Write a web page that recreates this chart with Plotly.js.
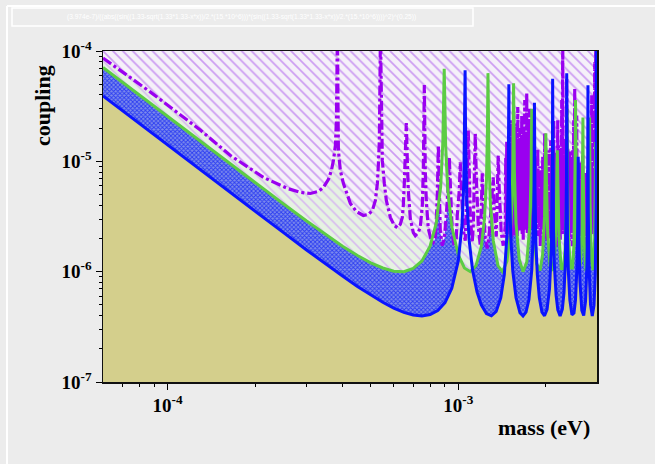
<!DOCTYPE html>
<html><head><meta charset="utf-8">
<script src="https://cdn.plot.ly/plotly-3.0.1.min.js"></script>
<style>html,body{margin:0;padding:0;background:#ececec;}#chart{width:655px;height:464px;}</style>
</head><body><div id="chart"></div>
<script>
// ---- data (mass in eV, coupling) ----
const blueMass = [6.0e-5,8.0e-5,1.0e-4,1.5e-4,2.0e-4,2.5e-4,3.0e-4,3.5e-4,4.0e-4,4.5e-4,5.0e-4,5.5e-4,6.0e-4,6.5e-4,7.0e-4,7.5e-4,8.0e-4,8.5e-4,9.0e-4,9.5e-4,
  1.0e-3,1.03e-3,1.045e-3,1.052e-3,1.0556e-3,1.06e-3,1.07e-3,1.09e-3,1.12e-3,1.16e-3,1.20e-3,1.25e-3,1.30e-3,1.35e-3,1.40e-3,1.44e-3,1.47e-3,1.485e-3,1.4928e-3,
  1.50e-3,1.515e-3,1.54e-3,1.58e-3,1.63e-3,1.67e-3,1.71e-3,1.75e-3,1.79e-3,1.81e-3,1.822e-3,1.8283e-3,1.835e-3,1.85e-3,1.87e-3,1.90e-3,1.94e-3,1.98e-3,
  2.02e-3,2.06e-3,2.09e-3,2.102e-3,2.108e-3,2.1111e-3,2.115e-3,2.125e-3,2.14e-3,2.17e-3,2.20e-3,2.24e-3,2.28e-3,2.31e-3,2.335e-3,2.35e-3,2.356e-3,2.3603e-3,
  2.365e-3,2.375e-3,2.39e-3,2.42e-3,2.46e-3,2.50e-3,2.53e-3,2.56e-3,2.575e-3,2.582e-3,2.5856e-3,2.59e-3,2.60e-3,2.62e-3,2.66e-3,2.70e-3,2.74e-3,2.77e-3,
  2.785e-3,2.7928e-3,2.80e-3,2.815e-3,2.85e-3,2.89e-3,2.93e-3,2.96e-3,2.98e-3,2.9857e-3,3.0e-3];
const blueCoupling = [3.92e-5,2.20e-5,1.41e-5,6.27e-6,3.53e-6,2.27e-6,1.58e-6,1.17e-6,9.12e-7,7.35e-7,6.13e-7,5.28e-7,4.68e-7,4.28e-7,4.05e-7,3.97e-7,4.09e-7,4.45e-7,5.25e-7,7.09e-7,
  1.25e-6,2.65e-6,6.34e-6,1.87e-5,6.7e-5,1.51e-5,4.60e-6,1.92e-6,1.03e-6,6.55e-7,5.00e-7,4.17e-7,3.98e-7,4.36e-7,5.79e-7,9.40e-7,2.10e-6,6.07e-6,5.0e-5,
  6.55e-6,2.12e-6,1.01e-6,5.80e-7,4.25e-7,3.97e-7,4.30e-7,5.59e-7,1.04e-6,2.13e-6,6.13e-6,3.4e-5,5.75e-6,1.78e-6,9.44e-7,5.81e-7,4.29e-7,3.98e-7,
  4.55e-7,7.02e-7,1.60e-6,3.66e-6,1.06e-5,5.6e-5,8.66e-6,2.41e-6,1.17e-6,6.09e-7,4.51e-7,3.97e-7,4.58e-7,6.46e-7,1.21e-6,2.90e-6,6.90e-6,6.3e-5,
  6.40e-6,2.04e-6,1.03e-6,5.52e-7,4.07e-7,4.22e-7,5.52e-7,1.10e-6,2.58e-6,7.54e-6,1.1e-5,6.22e-6,1.90e-6,8.22e-7,4.46e-7,4.01e-7,5.42e-7,1.14e-6,
  3.25e-6,4.9e-5,3.50e-6,1.16e-6,5.03e-7,3.97e-7,4.97e-7,9.55e-7,4.22e-6,1.5e-4,1.65e-6];

const greenMass = [6.0e-5,8.0e-5,1.0e-4,1.5e-4,2.0e-4,2.5e-4,3.0e-4,3.5e-4,4.0e-4,4.5e-4,5.0e-4,5.5e-4,6.0e-4,6.5e-4,7.0e-4,7.5e-4,8.0e-4,8.4e-4,8.7e-4,8.85e-4,8.947e-4,
  9.05e-4,9.2e-4,9.5e-4,1.0e-3,1.05e-3,1.10e-3,1.15e-3,1.20e-3,1.23e-3,1.25e-3,1.26e-3,1.2652e-3,1.275e-3,1.29e-3,1.32e-3,1.37e-3,1.42e-3,1.47e-3,1.51e-3,1.53e-3,1.54e-3,1.5496e-3,
  1.56e-3,1.58e-3,1.62e-3,1.67e-3,1.72e-3,1.76e-3,1.78e-3,1.7893e-3,1.80e-3,1.82e-3,1.86e-3,1.91e-3,1.95e-3,1.98e-3,1.995e-3,2.0005e-3,
  2.01e-3,2.03e-3,2.07e-3,2.11e-3,2.15e-3,2.175e-3,2.185e-3,2.1915e-3,2.20e-3,2.22e-3,2.26e-3,2.30e-3,2.33e-3,2.355e-3,2.363e-3,2.367e-3,
  2.375e-3,2.395e-3,2.43e-3,2.47e-3,2.50e-3,2.52e-3,2.527e-3,2.5305e-3,2.54e-3,2.56e-3,2.60e-3,2.64e-3,2.665e-3,2.678e-3,2.684e-3,
  2.69e-3,2.71e-3,2.75e-3,2.79e-3,2.815e-3,2.8292e-3,2.84e-3,2.87e-3,2.91e-3,2.945e-3,2.96e-3,2.9672e-3,2.975e-3,3.0e-3];
const greenCoupling = [7.08e-5,3.98e-5,2.55e-5,1.13e-5,6.40e-6,4.12e-6,2.89e-6,2.16e-6,1.70e-6,1.40e-6,1.20e-6,1.08e-6,1.01e-6,1.00e-6,1.07e-6,1.25e-6,1.70e-6,2.75e-6,5.89e-6,1.49e-5,6.9e-5,
  1.37e-5,5.57e-6,2.56e-6,1.42e-6,1.08e-6,1.00e-6,1.13e-6,1.69e-6,2.96e-6,6.67e-6,1.93e-5,6.3e-5,1.03e-5,4.07e-6,1.90e-6,1.13e-6,1.00e-6,1.24e-6,2.19e-6,4.26e-6,8.62e-6,5.1e-5,
  7.89e-6,2.74e-6,1.30e-6,1.00e-6,1.22e-6,2.52e-6,7.69e-6,3.0e-5,6.66e-6,2.37e-6,1.18e-6,1.02e-6,1.42e-6,3.17e-6,1.16e-5,1.8e-5,
  6.72e-6,2.22e-6,1.12e-6,1.02e-6,1.54e-6,3.60e-6,9.07e-6,1.26e-5,6.81e-6,2.11e-6,1.07e-6,1.06e-6,1.59e-6,4.52e-6,1.34e-5,3.0e-5,
  6.76e-6,2.00e-6,1.08e-6,1.08e-6,1.77e-6,4.86e-6,1.45e-5,3.6e-5,5.32e-6,1.80e-6,1.02e-6,1.26e-6,2.58e-6,7.99e-6,2.5e-5,
  7.87e-6,1.91e-6,1.01e-6,1.32e-6,3.25e-6,2.5e-5,4.17e-6,1.26e-6,1.03e-6,2.03e-6,5.97e-6,1.5e-5,5.54e-6,1.44e-6];

// purple curve: smooth part with its resonances
const purpleCurveMass = [6.0e-5,8.74e-5,1.30e-4,1.646e-4,2.138e-4,2.585e-4,2.864e-4,3.10e-4,3.304e-4,3.437e-4,3.577e-4,3.662e-4,3.721e-4,3.780e-4,3.81e-4,3.84e-4,
  3.87e-4,3.93e-4,4.026e-4,4.155e-4,4.255e-4,4.461e-4,4.716e-4,4.907e-4,5.065e-4,5.187e-4,5.27e-4,5.31e-4,5.353e-4,5.40e-4,
  5.44e-4,5.48e-4,5.568e-4,5.657e-4,5.84e-4,6.026e-4,6.17e-4,6.32e-4,6.42e-4,6.471e-4,6.523e-4,6.574e-4,6.627e-4,
  6.68e-4,6.734e-4,6.84e-4,7.005e-4,7.116e-4,7.287e-4,7.404e-4,7.522e-4,7.582e-4,7.643e-4,
  7.70e-4,7.762e-4,7.886e-4,8.077e-4,8.206e-4,8.336e-4,8.403e-4,8.47e-4,8.54e-4];
const purpleCurveCoupling = [8.64e-5,4.24e-5,1.91e-5,1.13e-5,7.15e-6,5.68e-6,5.23e-6,5.11e-6,5.34e-6,5.80e-6,6.86e-6,8.28e-6,1.02e-5,1.40e-5,2.36e-5,1.5e-4,
  1.26e-5,8.28e-6,6.31e-6,4.91e-6,4.15e-6,3.51e-6,3.23e-6,3.30e-6,3.59e-6,4.42e-6,6.31e-6,9.2e-6,1.55e-5,1.5e-4,
  1.55e-5,1.02e-5,6.31e-6,4.42e-6,3.10e-6,2.62e-6,2.51e-6,2.69e-6,3.10e-6,3.98e-6,6.31e-6,1.02e-5,2.22e-5,
  1.02e-5,5.45e-6,3.03e-6,2.26e-6,2.12e-6,2.26e-6,2.56e-6,3.98e-6,8.28e-6,4.91e-5,
  8.28e-6,4.42e-6,2.46e-6,1.91e-6,1.84e-6,2.04e-6,2.91e-6,4.91e-6,1.40e-5];
// purple curve: ragged part, 0.86 - 1.43 meV
const purpleRaggedMass = [8.604e-4,8.672e-4,8.810e-4,8.951e-4,9.094e-4,9.239e-4,9.312e-4,9.386e-4,9.536e-4,9.688e-4,9.843e-4,9.921e-4,
  1.0079e-3,1.0160e-3,1.0241e-3,1.0404e-3,1.0570e-3,1.0654e-3,1.0739e-3,1.0824e-3,1.0910e-3,1.0997e-3,1.1172e-3,1.1261e-3,1.1350e-3,1.1440e-3,1.1531e-3,
  1.1715e-3,1.1902e-3,1.1997e-3,1.2092e-3,1.2188e-3,1.2383e-3,1.2580e-3,1.2781e-3,1.2985e-3,1.3192e-3,1.3297e-3,1.3509e-3,1.3617e-3,1.3725e-3,1.3834e-3,
  1.4055e-3,1.4279e-3];
const purpleRaggedCoupling = [4.91e-6,2.36e-6,1.72e-6,2.0e-6,3.23e-6,6.05e-6,1.09e-5,6.05e-6,2.26e-6,1.69e-6,2.0e-6,3.23e-6,
  5.45e-6,9.79e-6,5.45e-6,2.36e-6,1.91e-6,3.23e-6,7.46e-6,1.91e-5,8.28e-6,3.23e-6,1.84e-6,2.62e-6,6.72e-6,1.80e-5,7.46e-6,
  2.62e-6,1.72e-6,3.23e-6,7.78e-6,3.98e-6,2.0e-6,1.62e-6,2.26e-6,3.98e-6,7.15e-6,3.59e-6,2.08e-6,4.91e-6,1.13e-5,5.45e-6,
  2.26e-6,1.72e-6];
// purple curve: dense oscillating part, 1.45 - 3 meV
const purpleDenseMass = [1.4507e-3,1.4565e-3,1.4622e-3,1.4680e-3,1.4738e-3,1.4797e-3,1.4855e-3,1.4914e-3,1.4973e-3,1.5033e-3,1.5092e-3,1.5152e-3,1.5212e-3,1.5272e-3,
  1.5333e-3,1.5394e-3,1.5455e-3,1.5516e-3,1.5578e-3,1.5640e-3,1.5702e-3,1.5764e-3,1.5826e-3,1.5889e-3,1.5952e-3,1.6015e-3,1.6079e-3,1.6143e-3,1.6207e-3,1.6271e-3,
  1.6335e-3,1.6400e-3,1.6465e-3,1.6530e-3,1.6596e-3,1.6662e-3,1.6728e-3,1.6794e-3,1.6861e-3,1.6928e-3,1.6995e-3,1.7063e-3,1.7130e-3,1.7198e-3,1.7266e-3,1.7335e-3,
  1.7403e-3,1.7472e-3,1.7541e-3,1.7611e-3,1.7681e-3,1.7751e-3,1.7821e-3,1.7892e-3,1.7963e-3,1.8034e-3,1.8106e-3,1.8178e-3,1.8250e-3,1.8323e-3,1.8395e-3,1.8468e-3,
  1.8541e-3,1.8615e-3,1.8688e-3,1.8762e-3,1.8837e-3,1.8912e-3,1.8987e-3,1.9062e-3,1.9138e-3,1.9214e-3,1.9290e-3,1.9367e-3,1.9443e-3,1.9520e-3,1.9598e-3,1.9676e-3,
  1.9753e-3,1.9832e-3,1.9910e-3,1.9989e-3,2.0069e-3,2.0149e-3,2.0228e-3,2.0308e-3,
  2.0389e-3,2.0470e-3,2.0551e-3,2.0633e-3,2.0714e-3,2.0796e-3,2.0879e-3,2.0962e-3,2.1045e-3,2.1129e-3,2.1212e-3,2.1296e-3,2.1381e-3,2.1466e-3,2.1551e-3,2.1637e-3,
  2.1722e-3,2.1808e-3,2.1895e-3,2.1982e-3,2.2069e-3,2.2157e-3,2.2244e-3,2.2332e-3,2.2421e-3,2.2510e-3,2.2599e-3,2.2689e-3,2.2779e-3,2.2870e-3,2.2960e-3,2.3051e-3,
  2.3142e-3,2.3234e-3,2.3326e-3,2.3419e-3,2.3512e-3,2.3605e-3,2.3699e-3,2.3793e-3,2.3887e-3,2.3982e-3,2.4077e-3,2.4173e-3,2.4268e-3,2.4364e-3,2.4461e-3,2.4558e-3,
  2.4656e-3,2.4754e-3,2.4852e-3,2.4951e-3,2.5049e-3,2.5149e-3,2.5248e-3,2.5348e-3,2.5449e-3,2.5550e-3,2.5651e-3,2.5753e-3,2.5855e-3,2.5958e-3,2.6061e-3,2.6165e-3,
  2.6268e-3,2.6372e-3,2.6477e-3,2.6582e-3,2.6687e-3,2.6793e-3,2.6899e-3,2.7006e-3,2.7113e-3,2.7221e-3,2.7329e-3,2.7438e-3,2.7546e-3,2.7655e-3,2.7765e-3,2.7875e-3,
  2.7986e-3,2.8097e-3,2.8208e-3,2.8320e-3,2.8432e-3,2.8545e-3,2.8658e-3,2.8772e-3,2.8886e-3,2.9001e-3,2.9116e-3,2.9232e-3,2.9347e-3,2.9464e-3,2.9581e-3,2.9699e-3,
  2.9816e-3,2.9934e-3,3.0e-3];
const purpleDenseCoupling = [2.6e-6,1.1e-5,2.2e-6,1.55e-5,1.9e-6,8.3e-6,2.4e-6,1.3e-5,2.1e-6,1.0e-5,2.6e-6,2.36e-5,2.0e-6,1.4e-5,
  2.3e-6,1.9e-5,2.6e-6,2.9e-5,2.1e-6,1.2e-5,2.8e-6,2.2e-5,2.3e-6,1.6e-5,2.1e-6,3.1e-5,2.5e-6,1.3e-5,2.9e-6,2.0e-5,
  2.3e-6,1.55e-5,2.7e-6,2.6e-5,2.2e-6,1.1e-5,1.9e-6,1.9e-5,2.5e-6,3.6e-5,2.9e-6,1.5e-5,2.4e-6,4.15e-5,2.2e-6,1.2e-5,
  3.0e-6,2.2e-5,2.1e-6,3.0e-5,2.6e-6,1.3e-5,3.2e-6,1.8e-5,2.4e-6,9.0e-6,2.6e-6,1.4e-5,3.0e-6,8.3e-6,1.9e-6,1.1e-5,
  2.8e-6,6.5e-6,2.1e-6,1.31e-5,3.4e-6,7.0e-6,2.6e-6,9.0e-6,1.7e-6,5.5e-6,2.4e-6,8.3e-6,3.2e-6,1.1e-5,2.2e-6,7.0e-6,
  2.8e-6,1.8e-5,2.4e-6,6.0e-6,2.0e-6,9.0e-6,1.9e-6,4.4e-6,
  2.2e-6,1.26e-5,2.6e-6,8.0e-6,2.0e-6,1.55e-5,2.4e-6,1.0e-5,2.1e-6,9.2e-6,2.8e-6,2.36e-5,2.3e-6,1.2e-5,1.9e-6,9.0e-6,
  1.7e-6,1.02e-5,2.5e-6,2.36e-5,2.2e-6,1.4e-5,2.9e-6,1.1e-5,1.9e-6,1.26e-5,2.4e-6,3.6e-5,2.7e-6,1.5e-4,2.2e-6,1.6e-5,
  2.6e-6,1.1e-5,2.3e-6,1.55e-5,2.8e-6,5.7e-5,2.1e-6,1.3e-5,2.5e-6,9.0e-6,1.9e-6,1.26e-5,2.6e-6,8.0e-6,2.3e-6,1.1e-5,
  1.7e-6,1.26e-5,2.4e-6,2.36e-5,2.8e-6,4.6e-5,2.2e-6,1.2e-5,2.6e-6,2.6e-5,2.0e-6,9.0e-6,2.9e-6,7.0e-6,1.7e-6,1.0e-5,
  2.4e-6,6.7e-6,2.6e-6,8.0e-6,2.2e-6,1.13e-5,2.9e-6,7.0e-6,2.3e-6,5.5e-6,1.7e-6,8.0e-6,2.6e-6,6.0e-6,2.4e-6,8.3e-6,
  2.1e-6,6.5e-6,2.8e-6,1.26e-5,2.3e-6,7.0e-6,2.6e-6,3.98e-5,2.2e-6,8.0e-6,2.4e-6,6.0e-6,2.4e-6,7.9e-5,2.1e-6,1.5e-4,
  2.5e-6,2.4e-5,2.36e-5];

const massRange = [6e-5, 3e-3];
const couplingRange = [1e-7, 1e-4];
const skyBound = [1e-3, 1e-3];          // closing edge above the frame for the top hatch
const xTickVals = [1e-4, 1e-3];
const xTickText = ['10<sup>-4</sup>', '10<sup>-3</sup>'];
const yTickVals = [1e-7, 1e-6, 1e-5, 1e-4];
const yTickText = ['10<sup>-7</sup>', '10<sup>-6</sup>', '10<sup>-5</sup>', '10<sup>-4</sup>'];
const xMinorVals = [7e-5,8e-5,9e-5,2e-4,3e-4,4e-4,5e-4,6e-4,7e-4,8e-4,9e-4,2e-3];
const yMinorVals = [2e-7,3e-7,4e-7,5e-7,6e-7,7e-7,8e-7,9e-7,2e-6,3e-6,4e-6,5e-6,6e-6,7e-6,8e-6,9e-6,2e-5,3e-5,4e-5,5e-5,6e-5,7e-5,8e-5,9e-5];
const titleText = '(3.974e-7)/((abs((sin((1.33-sqrt(1.33*1.33-x*x))/2.*(15.*10^6)))*(sin((1.33-sqrt(1.33*1.33-x*x))/2.*(15.*10^6))))^2)^(0.25))';
const xLabel = 'mass (eV)';
const yLabel = 'coupling';

const purpleMass = purpleCurveMass.concat(purpleRaggedMass, purpleDenseMass);
const purpleCoupling = purpleCurveCoupling.concat(purpleRaggedCoupling, purpleDenseCoupling);

// ---- figure ----
const W = 655, H = 464, L = 103, R = 58, T = 51, B = 82;
const pw = W - L - R, ph = H - T - B;
const px = v => (v - L) / pw;          // pixel -> paper x
const py = v => (H - B - v) / ph;      // pixel -> paper y

const noLine = {width: 0};
const traces = [
  {x: blueMass, y: blueCoupling, mode: 'lines', line: noLine, hoverinfo: 'skip'},
  {x: greenMass, y: greenCoupling, mode: 'lines', line: noLine, fill: 'tonexty', fillcolor: '#5a6ae6',
   fillpattern: {shape: 'x', fgcolor: '#2a3cf2', bgcolor: '#7e8cec', size: 3, solidity: 0.5}, hoverinfo: 'skip'},
  {x: purpleMass, y: purpleCoupling, mode: 'lines', line: noLine, fill: 'tonexty', fillcolor: '#e8f1e6',
   fillpattern: {shape: '\\', fgcolor: '#d6b6f0', bgcolor: '#e6f2e3', size: 7, solidity: 0.22}, hoverinfo: 'skip'},
  {x: massRange, y: skyBound, mode: 'lines', line: noLine, fill: 'tonexty', fillcolor: '#f3edf8',
   fillpattern: {shape: '\\', fgcolor: '#cc9cf2', bgcolor: '#f5f0f9', size: 7, solidity: 0.24}, hoverinfo: 'skip'},
  {x: purpleMass, y: purpleCoupling, mode: 'lines', line: {color: '#9a00f0', width: 3.2, dash: '10px,3px,3px,3px'}, hoverinfo: 'skip'},
  {x: greenMass, y: greenCoupling, mode: 'lines', line: {color: '#5ccc44', width: 3}, hoverinfo: 'skip'},
  {x: blueMass, y: blueCoupling, mode: 'lines', line: {color: '#0a14ff', width: 3}, hoverinfo: 'skip'}
];

const tickFont = {family: 'Liberation Serif', size: 19, color: '#000', weight: 'bold'};
const axisCommon = {
  type: 'log', showgrid: false, zeroline: false, showline: true, mirror: true,
  linecolor: '#111', linewidth: 1.5, ticks: 'outside', ticklen: 6, tickwidth: 1, tickcolor: '#000',
  tickfont: tickFont, fixedrange: true
};

const layout = {
  width: W, height: H,
  margin: {l: L, r: R, t: T, b: B, pad: 0},
  paper_bgcolor: '#ececec',
  plot_bgcolor: '#d4cf8c',
  showlegend: false,
  hovermode: false,
  xaxis: Object.assign({}, axisCommon, {
    range: [Math.log10(massRange[0]), Math.log10(massRange[1])],
    tickmode: 'array', tickvals: xTickVals, ticktext: xTickText,
    minor: {tickmode: 'array', tickvals: xMinorVals, ticks: 'outside', ticklen: 3, tickcolor: '#000', showgrid: false}
  }),
  yaxis: Object.assign({}, axisCommon, {
    range: [Math.log10(couplingRange[0]), Math.log10(couplingRange[1])],
    tickmode: 'array', tickvals: yTickVals, ticktext: yTickText,
    minor: {tickmode: 'array', tickvals: yMinorVals, ticks: 'outside', ticklen: 3, tickcolor: '#000', showgrid: false}
  }),
  shapes: [
    {type: 'line', xref: 'paper', yref: 'paper', x0: px(7), x1: px(7), y0: py(6), y1: py(464), line: {color: '#ffffff', width: 2}},
    {type: 'line', xref: 'paper', yref: 'paper', x0: px(7), x1: px(655), y0: py(6), y1: py(6), line: {color: '#ffffff', width: 2}},
    {type: 'rect', xref: 'paper', yref: 'paper', x0: px(12), x1: px(473), y0: py(26), y1: py(8),
     line: {color: '#ffffff', width: 1.5}, fillcolor: 'rgba(0,0,0,0)'}
  ],
  annotations: [
    {text: titleText, xref: 'paper', yref: 'paper', x: px(241), y: py(17), xanchor: 'center', yanchor: 'middle',
     showarrow: false, font: {family: 'Liberation Sans', size: 6.6, color: '#ffffff'}},
    {text: yLabel, xref: 'paper', yref: 'paper', x: px(43), y: py(106), xanchor: 'center', yanchor: 'middle',
     textangle: -90, showarrow: false, font: {family: 'Liberation Serif', size: 22, color: '#000', weight: 'bold'}},
    {text: xLabel, xref: 'paper', yref: 'paper', x: px(592), y: py(427), xanchor: 'right', yanchor: 'middle',
     showarrow: false, font: {family: 'Liberation Serif', size: 22, color: '#000', weight: 'bold'}}
  ]
};

Plotly.newPlot('chart', traces, layout, {staticPlot: true, displayModeBar: false});
</script>
</body></html>
